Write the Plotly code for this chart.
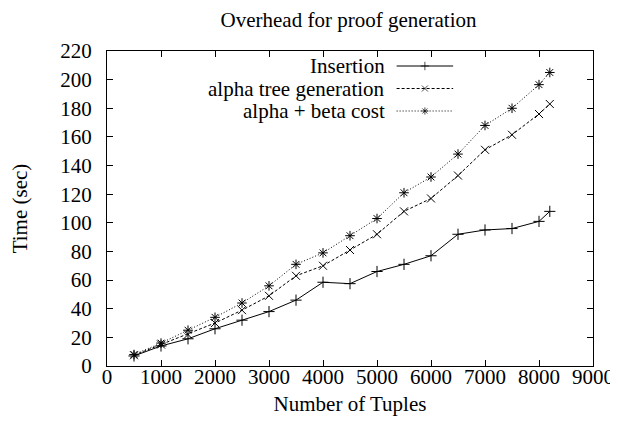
import plotly.graph_objects as go

tuples = [500, 1000, 1500, 2000, 2500, 3000, 3500, 4000, 4500, 5000, 5500, 6000, 6500, 7000, 7500, 8000, 8200]
insertion = [7, 14, 19, 26, 32, 38, 46, 58.5, 57.5, 66, 71, 77, 92, 95, 96, 101, 108]
alpha_tree = [7.5, 15, 22, 30, 39, 49, 63, 70, 81, 92, 108, 117, 133, 151, 161.5, 176, 183]
alpha_beta = [8, 16, 25, 34, 44, 56, 71, 79, 91, 103, 121, 132, 148, 168, 180, 196.5, 205]

names = ["Insertion", "alpha tree generation", "alpha + beta cost"]
dashes = ["solid", "3px,2px", "1px,2px"]
symbols = ["cross-thin-open", "x-thin-open", "asterisk-open"]
series = [insertion, alpha_tree, alpha_beta]

FONT = "Liberation Serif"
FS = 21
fig = go.Figure()
for name, ys, d, s in zip(names, series, dashes, symbols):
    fig.add_trace(go.Scatter(
        x=tuples, y=ys, mode="lines+markers", name=name,
        line=dict(color="black", width=1, dash=d),
        marker=dict(symbol=s, size=8, color="black", line=dict(color="black", width=1)),
        showlegend=False,
    ))

# custom gnuplot-like legend (text right-aligned, sample on the right)
W, H = 490.0, 315.0
leg_rows = [66, 88.5, 111]
x0, x1 = (395 - 103) / W, (452 - 103) / W
xm = (x0 + x1) / 2
for name, py, d, s in zip(names, leg_rows, dashes, symbols):
    yf = (366 - py) / H
    fig.add_trace(go.Scatter(
        x=[x0, xm, x1], y=[yf, yf, yf], xaxis="x2", yaxis="y2",
        mode="lines+markers",
        line=dict(color="black", width=1, dash=d),
        marker=dict(symbol=s, size=[0, 6, 0], color="black", line=dict(color="black", width=1)),
        showlegend=False, hoverinfo="skip",
    ))
    fig.add_annotation(
        x=(384 - 103) / W, y=yf, xref="paper", yref="paper",
        text=name, showarrow=False, xanchor="right", yanchor="middle",
        font=dict(family=FONT, size=FS, color="black"), borderpad=0,
    )

axis_common = dict(
    showline=True, linecolor="black", linewidth=1, mirror="ticks",
    ticks="inside", ticklen=6, tickcolor="black", showgrid=False, zeroline=False,
    tickfont=dict(family=FONT, size=FS, color="black"),
)
fig.update_layout(
    width=618, height=433,
    margin=dict(l=95, r=33, t=43, b=75),
    paper_bgcolor="white", plot_bgcolor="white",
    title=dict(text="Overhead for proof generation", x=0.551, xanchor="center",
               y=0.99, yanchor="top", pad=dict(t=0, b=0),
               font=dict(family=FONT, size=FS, color="black")),
    xaxis=dict(range=[0, 9000], dtick=1000, tick0=0, **axis_common,
               ticklabelstandoff=-8,
               title=dict(text="Number of Tuples", font=dict(family=FONT, size=FS, color="black"), standoff=8)),
    yaxis=dict(range=[0, 220], dtick=20, tick0=0, **axis_common,
               ticklabelstandoff=10,
               title=dict(text="Time (sec)", font=dict(family=FONT, size=FS, color="black"), standoff=26)),
    xaxis2=dict(range=[0, 1], overlaying="x", visible=False),
    yaxis2=dict(range=[0, 1], overlaying="y", visible=False),
)
fig.write_html("out.html")
